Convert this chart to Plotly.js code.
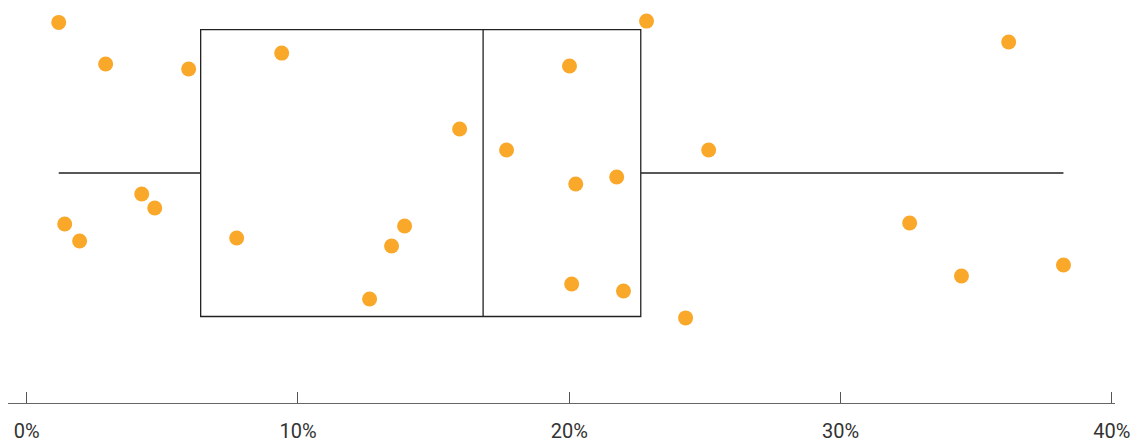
<!DOCTYPE html>
<html>
<head>
<meta charset="utf-8">
<script src="https://cdn.plot.ly/plotly-3.0.1.min.js"></script>
<style>html,body{margin:0;padding:0;background:#fff;}#chart{width:1135px;height:442px;}</style>
</head>
<body>
<div id="chart"></div>
<script>
// Values in percent
var values = [1.18, 2.91, 5.97, 9.40, 22.85, 36.20, 20.01, 15.96, 17.69, 25.14, 20.24, 21.75, 4.24, 4.72, 1.40, 1.95, 7.74, 13.93, 13.45, 32.55, 34.46, 38.22, 12.64, 20.09, 22.00, 24.29];
// Vertical jitter of each point (relative to box half-height)
var jitter = [1.05, 0.76, 0.725, 0.836, 1.059, 0.913, 0.746, 0.307, 0.16, 0.16, -0.077, -0.028, -0.146, -0.244, -0.355, -0.474, -0.453, -0.369, -0.509, -0.348, -0.718, -0.641, -0.878, -0.774, -0.822, -1.01];
var tickVals = [0, 10, 20, 30, 40];
var tickText = ['0%', '10%', '20%', '30%', '40%'];

function quantile(arr, p) {
  var s = arr.slice().sort(function (a, b) { return a - b; });
  var pos = (s.length - 1) * p;
  var lo = Math.floor(pos), hi = Math.ceil(pos);
  return s[lo] + (s[hi] - s[lo]) * (pos - lo);
}

var boxTrace = {
  type: 'box',
  orientation: 'h',
  y: [0],
  q1: [quantile(values, 0.25)],
  median: [quantile(values, 0.5)],
  q3: [quantile(values, 0.75)],
  lowerfence: [Math.min.apply(null, values)],
  upperfence: [Math.max.apply(null, values)],
  width: 2,
  whiskerwidth: 0,
  fillcolor: 'rgba(0,0,0,0)',
  line: {color: '#222222', width: 1.3},
  boxpoints: false,
  hoverinfo: 'skip',
  showlegend: false
};

var pointTrace = {
  type: 'scatter',
  mode: 'markers',
  x: values,
  y: jitter,
  marker: {color: '#F9A82A', size: 15, line: {width: 0}},
  showlegend: false,
  hoverinfo: 'x'
};

var layout = {
  width: 1135,
  height: 442,
  margin: {l: 8, r: 20, t: 0, b: 39},
  paper_bgcolor: '#ffffff',
  plot_bgcolor: '#ffffff',
  showlegend: false,
  xaxis: {
    range: [-0.69, 40.12],
    tickvals: tickVals,
    ticktext: tickText,
    ticks: 'inside',
    ticklen: 11,
    tickwidth: 1,
    tickcolor: '#555555',
    showline: true,
    linecolor: '#666666',
    linewidth: 1.3,
    showgrid: false,
    zeroline: false,
    tickfont: {family: 'Roboto, sans-serif', size: 20, color: '#333333'},
    ticklabelstandoff: 10,
    fixedrange: true
  },
  yaxis: {
    range: [-1.603, 1.206],
    showticklabels: false,
    showgrid: false,
    zeroline: false,
    showline: false,
    ticks: '',
    fixedrange: true
  }
};

Plotly.newPlot('chart', [boxTrace, pointTrace], layout, {displayModeBar: false, staticPlot: true});
</script>
</body>
</html>
